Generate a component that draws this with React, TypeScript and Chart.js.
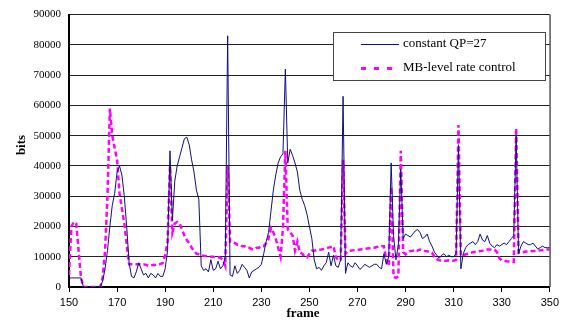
import React, { useEffect, useRef } from "react";
import { Chart, registerables } from "chart.js";

Chart.register(...registerables);

// frame axis
const FIRST_FRAME = 150;
const X_MIN = 150;
const X_MAX = 350;
const X_STEP = 20;
const Y_MIN = 0;
const Y_MAX = 90000;
const Y_STEP = 10000;

const seriesNames = ["constant QP=27", "MB-level rate control"];

// bits per frame, frames 150..350
const constantQP = [
  3000, 3000, 3000, 3000, 3000, 3000, 0, 0, 0, 0,
  0, 0, 0, 0, 2000, 6000, 12000, 20000, 27000, 31000,
  38000, 40000, 37000, 30000, 20000, 8000, 3500, 3000, 5000, 8000,
  6000, 4000, 4500, 3000, 4500, 4000, 3000, 4500, 3500, 3500,
  6000, 12000, 45000, 22000, 35000, 40000, 43000, 46000, 49000, 49500,
  47000, 42000, 38000, 32000, 29000, 7000, 5500, 6000, 5000, 9000,
  5500, 6000, 8500, 6000, 7000, 10000, 83000, 4000, 3500, 7000,
  4500, 5500, 7500, 6500, 5500, 3000, 5000, 5500, 6000, 6500,
  7500, 11000, 15000, 18000, 25000, 32000, 37000, 41000, 43000, 44000,
  72000, 41000, 45500, 43500, 41000, 38000, 32000, 29000, 27000, 24000,
  20000, 16000, 9000, 6000, 6500, 5500, 7000, 8000, 11500, 7000,
  10500, 7000, 6500, 9000, 63000, 4500, 8000, 7000, 6500, 8000,
  7000, 5800, 6500, 7500, 7000, 6500, 7000, 7500, 7500, 6500,
  6000, 11000, 7500, 10000, 41000, 17000, 9000, 14000, 39000, 16000,
  17500, 17000, 16500, 17500, 18500, 19000, 18000, 16000, 16500, 17500,
  15000, 13500, 11500, 10500, 9500, 10500, 11000, 10000, 10500, 10000,
  10000, 11000, 47000, 6000, 11000, 13000, 14000, 14500, 15000, 14000,
  15000, 17500, 15500, 15000, 17000, 14500, 13500, 13000, 14000, 13500,
  14000, 14500, 14000, 15000, 16000, 17000, 50000, 11000, 13500, 15000,
  14500, 14000, 14000, 14500, 13500, 12500, 13000, 13500, 13000, 13000,
  13000,
];

const mbRateControl = [
  4000, 20000, 21500, 21000, 12000, 3000, 0, 0, 0, 0,
  0, 0, 0, 0, 3000, 12000, 30000, 59000, 50000, 46000,
  42000, 31000, 26000, 21000, 14000, 7500, 7500, 7500, 7500, 7500,
  7500, 7500, 7300, 7000, 7200, 7300, 7300, 7500, 7600, 8000,
  10500, 15000, 40000, 18000, 21000, 21500, 21000, 19000, 17000, 15500,
  14500, 13000, 12000, 11000, 10800, 10500, 10300, 10200, 10000, 10000,
  10000, 9800, 9800, 9700, 9000, 7000, 40000, 15000, 15000, 14500,
  14000, 14000, 13500, 13500, 13000, 13000, 12500, 12500, 13000, 13000,
  13500, 13500, 14500, 16000, 19500, 18000, 16000, 13000, 10000, 19500,
  45000, 19000, 18000, 17000, 12000, 15000, 11500, 11000, 10000, 9800,
  11000, 12000, 12000, 12200, 12300, 12400, 12600, 12800, 13000, 13200,
  13500, 10000, 8700, 9000, 42000, 11000, 11900, 12000, 12100, 12200,
  12200, 12400, 12500, 12600, 12700, 12800, 12900, 13000, 13200, 13300,
  13500, 13500, 8700, 7000, 33000, 3300, 3000, 3500, 45000, 11500,
  10800, 11500, 11900, 12000, 12400, 12000, 12400, 12200, 11900, 11800,
  11500, 11300, 10000, 9200, 8800, 8700, 8700, 8700, 8800, 8700,
  8700, 9000, 53500, 10300, 10500, 10800, 11000, 11200, 11500, 11600,
  11700, 11900, 12000, 12200, 12400, 12400, 12400, 12300, 11500, 9500,
  8800, 8700, 8500, 8400, 8300, 8300, 52500, 11300, 11400, 11500,
  11700, 11700, 11800, 11900, 11900, 12000, 12100, 12200, 12300, 12400,
  12400,
];

const BLUE = "#10107f";
const MAGENTA = "#ff00ff";

const toPoints = (vals: number[]) => vals.map((v, i) => ({ x: FIRST_FRAME + i, y: v }));

const decorPlugin = {
  id: "decor",
  afterDraw(chart: any) {
    const ctx = chart.ctx as CanvasRenderingContext2D;
    const a = chart.chartArea;
    ctx.save();
    // right border of plot area
    ctx.strokeStyle = "#555";
    ctx.lineWidth = 1.5;
    ctx.beginPath();
    ctx.moveTo(a.right + 0.25, a.top);
    ctx.lineTo(a.right + 0.25, a.bottom);
    ctx.stroke();

    // legend box
    const bx = 333.5, by = 32.5, bw = 212, bh = 48;
    ctx.fillStyle = "#fff";
    ctx.fillRect(bx, by, bw, bh);
    ctx.strokeStyle = "#444";
    ctx.lineWidth = 1;
    ctx.strokeRect(bx, by, bw, bh);

    ctx.strokeStyle = BLUE;
    ctx.lineWidth = 1;
    ctx.beginPath();
    ctx.moveTo(361, 44.5);
    ctx.lineTo(399, 44.5);
    ctx.stroke();

    ctx.strokeStyle = MAGENTA;
    ctx.lineWidth = 3;
    ctx.setLineDash([5, 8]);
    ctx.beginPath();
    ctx.moveTo(361, 68.5);
    ctx.lineTo(399, 68.5);
    ctx.stroke();
    ctx.setLineDash([]);

    ctx.fillStyle = "#000";
    ctx.font = "13px 'Liberation Serif'";
    ctx.textAlign = "left";
    ctx.textBaseline = "middle";
    ctx.fillText(seriesNames[0], 403, 44);
    ctx.fillText(seriesNames[1], 403, 68);

    // axis titles
    ctx.font = "bold 13px 'Liberation Serif'";
    ctx.textAlign = "center";
    ctx.fillText("frame", 303, 314);
    ctx.translate(22, 145);
    ctx.rotate(-Math.PI / 2);
    ctx.fillText("bits", 0, 0);
    ctx.restore();
  },
};

export default function App() {
  const ref = useRef<HTMLCanvasElement | null>(null);
  useEffect(() => {
    if (!ref.current) return;
    const chart = new Chart(ref.current, {
      type: "line",
      data: {
        datasets: [
          {
            label: seriesNames[0],
            data: toPoints(constantQP),
            borderColor: BLUE,
            borderWidth: 1,
            pointRadius: 0,
            tension: 0,
          },
          {
            label: seriesNames[1],
            data: toPoints(mbRateControl),
            borderColor: MAGENTA,
            borderWidth: 2.5,
            borderDash: [5, 3],
            pointRadius: 0,
            tension: 0,
          },
        ],
      },
      options: {
        animation: false,
        responsive: false,
        devicePixelRatio: 1,
        layout: { padding: { top: 7, right: 10, left: 0, bottom: 0 } },
        plugins: { legend: { display: false }, tooltip: { enabled: false } },
        scales: {
          x: {
            type: "linear",
            min: X_MIN,
            max: X_MAX,
            afterFit: (s: any) => { s.height = 33; },
            ticks: {
              stepSize: X_STEP,
              color: "#000",
              padding: 4,
              maxRotation: 0,
              callback: (v: any) => String(v),
              font: { family: "'Liberation Sans'", size: 11 },
            },
            grid: { drawOnChartArea: false, drawTicks: true, tickLength: 5, color: "#000" },
            border: { color: "#000", width: 2 },
          },
          y: {
            min: Y_MIN,
            max: Y_MAX,
            afterFit: (s: any) => { s.width = 69; },
            ticks: {
              stepSize: Y_STEP,
              color: "#000",
              padding: 8,
              callback: (v: any) => String(v),
              font: { family: "'Liberation Serif'", size: 11 },
            },
            grid: { color: "#222", lineWidth: 1, drawTicks: false },
            border: { color: "#000", width: 2 },
          },
        },
      },
      plugins: [decorPlugin],
    } as any);
    return () => chart.destroy();
  }, []);
  return (
    <div style={{ position: "fixed", left: 0, top: 0, width: 563, height: 320, background: "#fff" }}>
      <canvas ref={ref} width={563} height={320} />
    </div>
  );
}
